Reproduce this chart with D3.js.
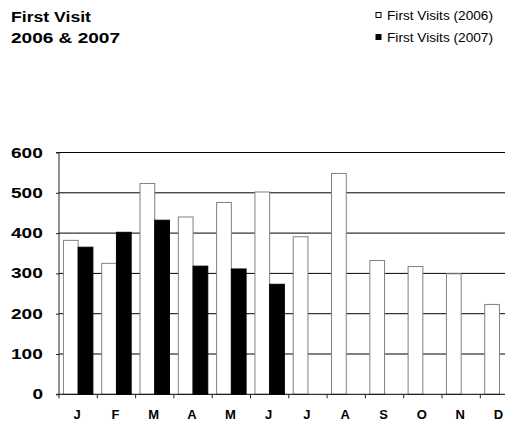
<!DOCTYPE html>
<html>
<head>
<meta charset="utf-8">
<script src="https://cdn.jsdelivr.net/npm/d3@7"></script>
<style>
  html, body { margin: 0; padding: 0; background: #fff; overflow: hidden; }
  svg { display: block; font-family: "Liberation Sans", Arial, sans-serif; }
</style>
</head>
<body>
<svg id="chart" width="505" height="421"></svg>
<script>
// Monthly first visits, 2006 vs 2007
const months = ["J", "F", "M", "A", "M", "J", "J", "A", "S", "O", "N", "D"];
const visits2006 = [382, 325, 523, 440, 476, 502, 391, 548, 332, 317, 299, 223];
const visits2007 = [365, 402, 432, 318, 311, 273, null, null, null, null, null, null];
const seriesNames = ["First Visits (2006)", "First Visits (2007)"];
const yTicks = [0, 100, 200, 300, 400, 500, 600];

const svg = d3.select("#chart");

const plot = { left: 59, right: 518.6, top: 152.5, bottom: 394.3 };

const x = d3.scaleBand()
  .domain(d3.range(months.length))
  .range([plot.left, plot.right])
  .paddingInner(0).paddingOuter(0);

const xSeries = d3.scaleBand()
  .domain([0, 1])
  .range([0, x.bandwidth()])
  .paddingInner(0).paddingOuter(0.3);

const y = d3.scaleLinear().domain([0, 600]).range([plot.bottom, plot.top]);

// Horizontal gridlines
svg.append("g")
  .selectAll("line")
  .data(yTicks.filter(d => d > 0))
  .join("line")
  .attr("x1", plot.left).attr("x2", plot.right)
  .attr("y1", d => y(d)).attr("y2", d => y(d))
  .attr("stroke", "#000").attr("stroke-width", 1);

// Bars
const seriesData = [visits2006, visits2007];
const fills = ["#fff", "#000"];
const strokes = ["#808080", "#000"];
seriesData.forEach((vals, s) => {
  svg.append("g")
    .selectAll("rect")
    .data(vals.map((v, i) => ({ v, i })).filter(d => d.v != null))
    .join("rect")
    .attr("x", d => x(d.i) + xSeries(s))
    .attr("y", d => y(d.v))
    .attr("width", xSeries.bandwidth())
    .attr("height", d => y(0) - y(d.v))
    .attr("fill", fills[s])
    .attr("stroke", strokes[s])
    .attr("stroke-width", 1);
});

// Y axis
const yAxis = d3.axisLeft(y).tickValues(yTicks).tickSize(3).tickFormat("");
const gy = svg.append("g").attr("transform", `translate(${plot.left},0)`).call(yAxis);
gy.select(".domain").attr("stroke", "#222").attr("d", `M-3,${plot.top}H0V${plot.bottom}H-3`);
gy.selectAll(".tick line").attr("stroke", "#222");

svg.append("g")
  .selectAll("text")
  .data(yTicks)
  .join("text")
  .attr("x", d => String(d).length === 1 ? 32.5 : 11)
  .attr("y", d => y(d) + 5)
  .attr("font-size", 14)
  .attr("font-weight", "bold")
  .attr("textLength", d => String(d).length * 10.6)
  .attr("lengthAdjust", "spacingAndGlyphs")
  .attr("fill", "#000")
  .text(d => d);

// X axis
const xEdges = d3.range(months.length + 1).map(i => plot.left + i * x.step());
const gx = svg.append("g");
gx.append("line")
  .attr("x1", plot.left).attr("x2", plot.right)
  .attr("y1", plot.bottom).attr("y2", plot.bottom)
  .attr("stroke", "#000");
gx.selectAll("line.tick")
  .data(xEdges)
  .join("line")
  .attr("class", "tick")
  .attr("x1", d => d).attr("x2", d => d)
  .attr("y1", plot.bottom).attr("y2", plot.bottom + 4)
  .attr("stroke", "#222");
gx.selectAll("text")
  .data(months)
  .join("text")
  .attr("x", (d, i) => x(i) + x.bandwidth() / 2 - 1)
  .attr("y", 418.5)
  .attr("text-anchor", "middle")
  .attr("font-size", 13)
  .attr("font-weight", "bold")
  .attr("fill", "#000")
  .text(d => d);

// Title
const title = svg.append("g").attr("font-size", 14).attr("font-weight", "bold").attr("fill", "#000");
title.append("text").attr("x", 11).attr("y", 21.7)
  .attr("textLength", 80).attr("lengthAdjust", "spacingAndGlyphs").text("First Visit");
title.append("text").attr("x", 11).attr("y", 43.3)
  .attr("textLength", 109).attr("lengthAdjust", "spacingAndGlyphs").text("2006 & 2007");

// Legend
const legend = svg.append("g");
seriesNames.forEach((name, s) => {
  const cy = s === 0 ? 15 : 37;
  legend.append("rect")
    .attr("x", 376).attr("y", cy - 2.5)
    .attr("width", 5).attr("height", 5)
    .attr("fill", fills[s]).attr("stroke", "#000").attr("stroke-width", 1);
  legend.append("text")
    .attr("x", 387).attr("y", cy + 4.5)
    .attr("font-size", 12)
    .attr("textLength", 106).attr("lengthAdjust", "spacingAndGlyphs")
    .attr("fill", "#000")
    .text(name);
});
</script>
</body>
</html>
